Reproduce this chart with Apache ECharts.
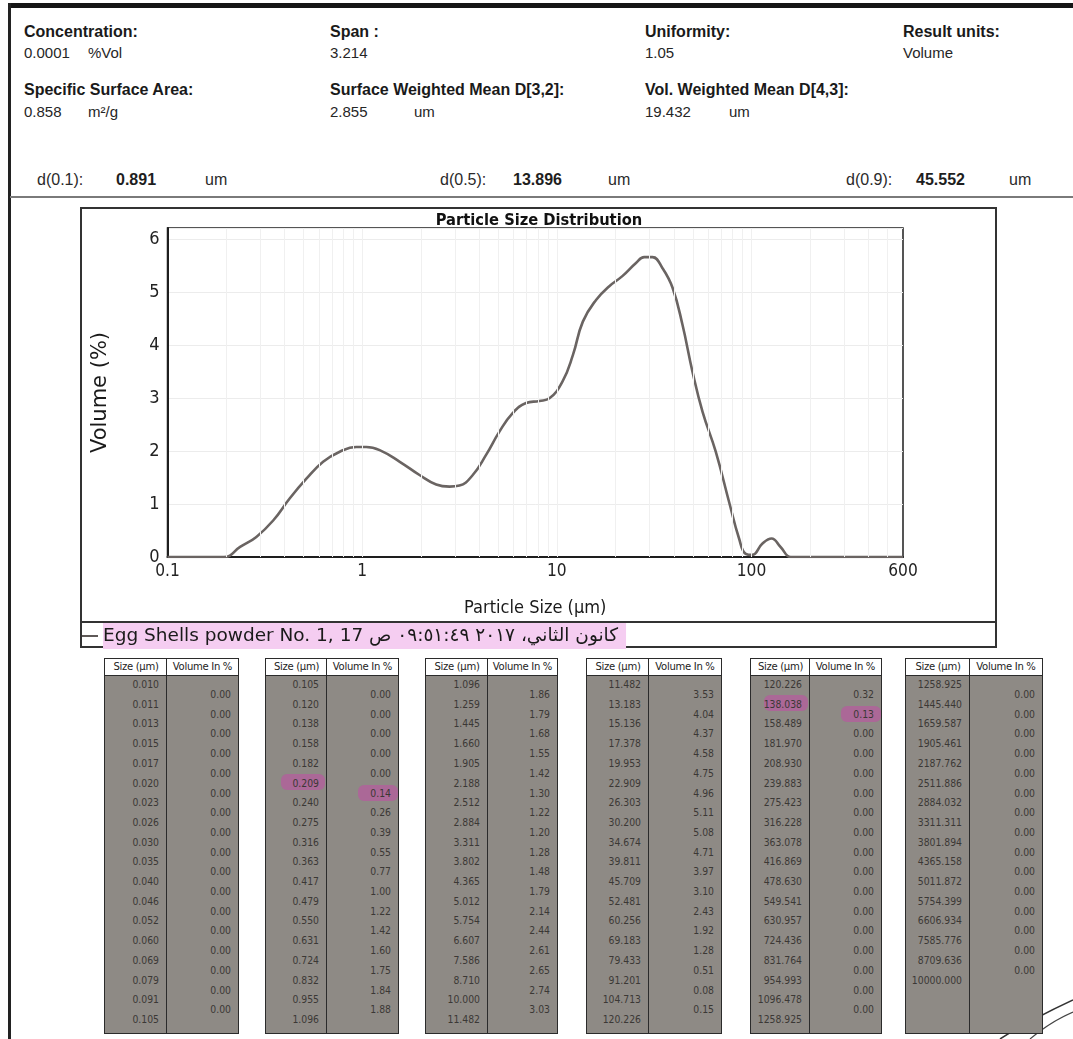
<!DOCTYPE html>
<html><head><meta charset="utf-8">
<script src="https://cdn.jsdelivr.net/npm/echarts@6/dist/echarts.min.js"></script>
<style>
html,body{margin:0;padding:0;background:#fff;}
#page{position:relative;width:1073px;height:1039px;overflow:hidden;background:#fff;font-family:"Liberation Sans",Arial,sans-serif;color:#1c1c1c;}
.abs{position:absolute;white-space:nowrap;}
.tbl{position:absolute;top:658px;height:376px;border:1.5px solid #2b2b2b;box-sizing:border-box;background:#8e8a85;}
.thead{position:absolute;left:0;right:0;top:0;height:16px;background:#fff;border-bottom:1.5px solid #2b2b2b;}
.tdiv{position:absolute;top:0;bottom:0;width:0;border-left:1.5px solid #2b2b2b;}
.th{position:absolute;top:0;height:16px;line-height:16px;text-align:center;color:#222;}
.cell{position:absolute;height:14px;line-height:14px;text-align:right;color:#3b3835;}
.mark{position:absolute;background:rgba(200,70,170,0.5);border-radius:6px;filter:blur(0.6px);}
</style></head>
<body><div id="page">
<div class="abs" style="left:8px;top:3px;width:1065px;height:5px;background:#151515"></div>
<div class="abs" style="left:8px;top:3px;width:3px;height:1036px;background:#222"></div>
<div class="abs" style="left:10px;top:196px;width:1063px;height:2px;background:#7a7a7a"></div>
<div class="abs" style="left:80px;top:207px;width:917px;height:441px;border:2px solid #333;box-sizing:border-box"></div>
<div class="abs" style="left:80px;top:621px;width:917px;height:2px;background:#333"></div>
<div id="chart" class="abs" style="left:80px;top:207px;width:918px;height:442px"></div>
<svg class="abs" style="left:990px;top:990px" width="83" height="49"><path d="M10 49 Q40 30 83 10" stroke="#333" stroke-width="1.5" fill="none"/><path d="M40 49 Q60 32 83 22" stroke="#444" stroke-width="1.2" fill="none"/></svg>
</div>
<script>
// ---------- data ----------
const summaryLabels = ['Concentration:', 'Span :', 'Uniformity:', 'Result units:', 'Specific Surface Area:', 'Surface Weighted Mean D[3,2]:', 'Vol. Weighted Mean D[4,3]:'];
const summaryValues = ['0.0001', '3.214', '1.05', 'Volume', '0.858', '2.855', '19.432'];
const summaryUnits  = ['%Vol', '', '', '', 'm²/g', 'um', 'um'];
const dLabels = ['d(0.1):', 'd(0.5):', 'd(0.9):'];
const dValues = ['0.891', '13.896', '45.552'];
const dUnit = 'um';

const chartTitle = 'Particle Size Distribution';
const xAxisTitle = 'Particle Size (µm)';
const yAxisTitle = 'Volume (%)';
const sampleName = 'Egg Shells powder No. 1, 17 كانون الثاني، ٢٠١٧ ٠٩:٥١:٤٩ ص';

// curve
const curveSizeUm = [0.1,0.195,0.236,0.286,0.349,0.425,0.517,0.63,0.767,0.933,1.05,1.23,1.56,1.97,2.4,2.81,3.16,3.7,4.33,5.07,5.93,6.95,8.13,9.16,10.7,12.1,13.6,15.9,18.6,21.7,25.5,28.1,31.0,34.9,39.3,44.2,49.7,56.0,65.5,76.7,86.3,93.4,101,113.5,126.8,141,159,175,600];
const curveVolumePct = [0,0,0.19,0.38,0.69,1.11,1.48,1.80,1.99,2.08,2.08,2.02,1.80,1.55,1.37,1.33,1.35,1.55,1.93,2.37,2.72,2.91,2.95,3.00,3.32,3.82,4.45,4.86,5.12,5.31,5.56,5.67,5.67,5.46,5.09,4.39,3.51,2.75,1.99,1.04,0.35,0.06,0.04,0.25,0.35,0.19,0,0,0];

const xTickLabels = [0.1, 1, 10, 100, 600];

// table data
const tableHeaders = ['Size (µm)', 'Volume In %'];
const sizeClasses = ['0.010','0.011','0.013','0.015','0.017','0.020','0.023','0.026','0.030','0.035','0.040','0.046','0.052','0.060','0.069','0.079','0.091',
'0.105','0.120','0.138','0.158','0.182','0.209','0.240','0.275','0.316','0.363','0.417','0.479','0.550','0.631','0.724','0.832','0.955',
'1.096','1.259','1.445','1.660','1.905','2.188','2.512','2.884','3.311','3.802','4.365','5.012','5.754','6.607','7.586','8.710','10.000',
'11.482','13.183','15.136','17.378','19.953','22.909','26.303','30.200','34.674','39.811','45.709','52.481','60.256','69.183','79.433','91.201','104.713',
'120.226','138.038','158.489','181.970','208.930','239.883','275.423','316.228','363.078','416.869','478.630','549.541','630.957','724.436','831.764','954.993','1096.478',
'1258.925','1445.440','1659.587','1905.461','2187.762','2511.886','2884.032','3311.311','3801.894','4365.158','5011.872','5754.399','6606.934','7585.776','8709.636','10000.000'];
const volumeInPct = ['0.00','0.00','0.00','0.00','0.00','0.00','0.00','0.00','0.00','0.00','0.00','0.00','0.00','0.00','0.00','0.00','0.00',
'0.00','0.00','0.00','0.00','0.00','0.14','0.26','0.39','0.55','0.77','1.00','1.22','1.42','1.60','1.75','1.84','1.88',
'1.86','1.79','1.68','1.55','1.42','1.30','1.22','1.20','1.28','1.48','1.79','2.14','2.44','2.61','2.65','2.74','3.03',
'3.53','4.04','4.37','4.58','4.75','4.96','5.11','5.08','4.71','3.97','3.10','2.43','1.92','1.28','0.51','0.08','0.15',
'0.32','0.13','0.00','0.00','0.00','0.00','0.00','0.00','0.00','0.00','0.00','0.00','0.00','0.00','0.00','0.00','0.00',
'0.00','0.00','0.00','0.00','0.00','0.00','0.00','0.00','0.00','0.00','0.00','0.00','0.00','0.00','0.00'];
const markedRows = [22, 69]; // hand-highlighted rows

// ---------- fonts ----------
function hasFont(f){
  const c=document.createElement('canvas').getContext('2d');const t='abcdefghijklmnopqrstuvwxyz0123456789ABCDEF';
  let diff=false;['monospace','serif'].forEach(b=>{c.font='72px '+b;const a=c.measureText(t).width;c.font='72px "'+f+'", '+b;if(c.measureText(t).width!==a)diff=true;});
  return diff;
}
let NARROW='"Liberation Sans"', nScale=0.84;
if(hasFont('Liberation Sans Narrow')){NARROW='"Liberation Sans Narrow"';nScale=1;}
else if(hasFont('DejaVu Sans Condensed')){NARROW='"DejaVu Sans Condensed"';nScale=0.86;}
let VCOND = '"DejaVu Sans"';

// ---------- header ----------
const page=document.getElementById('page');
function put(txt,x,cy,size,weight,color,family){
  const e=document.createElement('div');e.className='abs';e.textContent=txt;
  const lh=Math.round(size*1.2);
  e.style.cssText+=`left:${x}px;top:${cy-lh/2}px;font-size:${size}px;line-height:${lh}px;font-weight:${weight};color:${color};`+(family?`font-family:${family};`:'');
  page.appendChild(e);return e;
}
const colX=[24,330,645,903];
const rowLabelY=[31,89], rowValueY=[53,112];
summaryLabels.forEach((lab,i)=>{
  const r=i<4?0:1, c=i<4?i:i-4;
  put(lab,colX[c],rowLabelY[r],16,'bold','#1a1a1a');
  put(summaryValues[i],colX[c],rowValueY[r],15,'normal','#262626');
  if(summaryUnits[i]) put(summaryUnits[i],colX[c]+(r===0||c===0?64:84),rowValueY[r],15,'normal','#262626');
});
const dX=[[37,116,205],[440,513,608],[846,916,1009]];
dLabels.forEach((lab,i)=>{
  put(lab,dX[i][0],179,16,'normal','#2a2a2a');
  put(dValues[i],dX[i][1],179,16,'bold','#1e1e1e');
  put(dUnit,dX[i][2],179,16,'normal','#2a2a2a');
});

// ---------- tables ----------
const tLeft=[104,265,425,586,750,905], tWidth=[135,134,133,136,132,138], tDiv=[62,61,62,62,59,64];
const rowPitch=19.7;
for(let t=0;t<6;t++){
  const box=document.createElement('div');box.className='tbl';
  box.style.left=tLeft[t]+'px';box.style.width=tWidth[t]+'px';
  const head=document.createElement('div');head.className='thead';box.appendChild(head);
  const dv=document.createElement('div');dv.className='tdiv';dv.style.left=(tDiv[t]-1)+'px';box.appendChild(dv);
  const h1=document.createElement('div');h1.className='th';h1.textContent=tableHeaders[0];
  h1.style.cssText+=`left:0;width:${tDiv[t]}px;font-family:${NARROW};font-size:${13*nScale}px;letter-spacing:-0.3px;`;box.appendChild(h1);
  const h2=document.createElement('div');h2.className='th';h2.textContent=tableHeaders[1];
  h2.style.cssText+=`left:${tDiv[t]}px;right:0;font-family:${NARROW};font-size:${13*nScale}px;letter-spacing:-0.3px;`;box.appendChild(h2);
  const s0=17*t, s1=Math.min(17*t+17, sizeClasses.length-1);
  for(let k=s0;k<=s1;k++){
    const y=25+(k-s0)*rowPitch-7;
    if(markedRows.includes(k)){const m=document.createElement('div');m.className='mark';m.style.cssText+=`left:${tDiv[t]-46}px;top:${y-2}px;width:44px;height:16px;`;box.appendChild(m);}
    const c=document.createElement('div');c.className='cell';c.textContent=sizeClasses[k];
    c.style.cssText+=`left:0;width:${tDiv[t]-8}px;top:${y}px;font-family:${NARROW};font-size:${12*nScale}px;`;box.appendChild(c);
  }
  for(let k=s0;k<Math.min(17*t+17, volumeInPct.length);k++){
    const y=35+(k-s0)*rowPitch-7;
    if(markedRows.includes(k)){const m=document.createElement('div');m.className='mark';m.style.cssText+=`right:0px;top:${y-1}px;width:40px;height:16px;`;box.appendChild(m);}
    const c=document.createElement('div');c.className='cell';c.textContent=volumeInPct[k];
    c.style.cssText+=`right:7px;top:${y}px;font-family:${NARROW};font-size:${12*nScale}px;`;box.appendChild(c);
  }
  page.appendChild(box);
}

// ---------- chart ----------
const gridX=[];
[0.1,1,10,100].forEach(d=>{for(let m=1;m<=9;m++){const v=+(d*m).toPrecision(3);if(v>0.1&&v<600)gridX.push(v);}});

const chart=echarts.init(document.getElementById('chart'),null,{renderer:'canvas'});
chart.setOption({
  animation:false,
  backgroundColor:'transparent',
  title:{text:chartTitle,left:'center',top:6,padding:0,
    textStyle:{fontFamily:NARROW,fontWeight:'bold',fontSize:19*nScale,color:'#111'}},
  grid:{left:87.5,right:95,top:21,bottom:92,show:true,borderColor:'#1e1e1e',borderWidth:1.5,backgroundColor:'#fff'},
  legend:{data:[sampleName],left:2,top:416,padding:0,icon:'rect',itemWidth:16,itemHeight:2,itemGap:0,
    textStyle:{fontFamily:VCOND,fontSize:18.5,color:'#1a1a1a',backgroundColor:'#f5cdf1',padding:[4,8,3,0]}},
  xAxis:{type:'log',logBase:10,min:xTickLabels[0],max:xTickLabels[xTickLabels.length-1],
    axisLine:{show:true,lineStyle:{color:'#1e1e1e',width:2}},axisTick:{show:false},splitLine:{show:false},
    axisLabel:{color:'#222',fontFamily:NARROW,fontSize:20*nScale,margin:6,
      formatter:v=>{const r=+(+v).toPrecision(4);return xTickLabels.includes(r)?String(r):'';}},
    name:xAxisTitle,nameLocation:'middle',nameGap:42,
    nameTextStyle:{fontFamily:NARROW,fontSize:21*nScale,color:'#1a1a1a'}},
  yAxis:{type:'value',min:0,max:6.22,interval:1,
    axisLine:{show:true,lineStyle:{color:'#1e1e1e',width:2}},axisTick:{show:false},
    splitLine:{show:true,lineStyle:{color:'#ececec',width:1}},
    axisLabel:{color:'#222',fontFamily:NARROW,fontSize:21*nScale,margin:8,
      formatter:v=>Number.isInteger(+v)?String(v):''},
    name:yAxisTitle,nameLocation:'middle',nameGap:56,
    nameTextStyle:{fontFamily:'"DejaVu Sans"',fontSize:21,color:'#1a1a1a'}},
  series:[
    {type:'line',name:'grid',data:[],z:1,silent:true,
      markLine:{silent:true,symbol:'none',label:{show:false},animation:false,
        lineStyle:{color:'#f0f0f0',width:1,type:'solid'},data:gridX.map(v=>({xAxis:v}))}},
    {type:'line',name:sampleName,z:3,showSymbol:false,smooth:0.45,
      data:curveSizeUm.map((s,i)=>[s,curveVolumePct[i]]),
      itemStyle:{color:'#5e5957'},lineStyle:{color:'#6a6462',width:2.6}}
  ]
});
</script>
</body></html>
